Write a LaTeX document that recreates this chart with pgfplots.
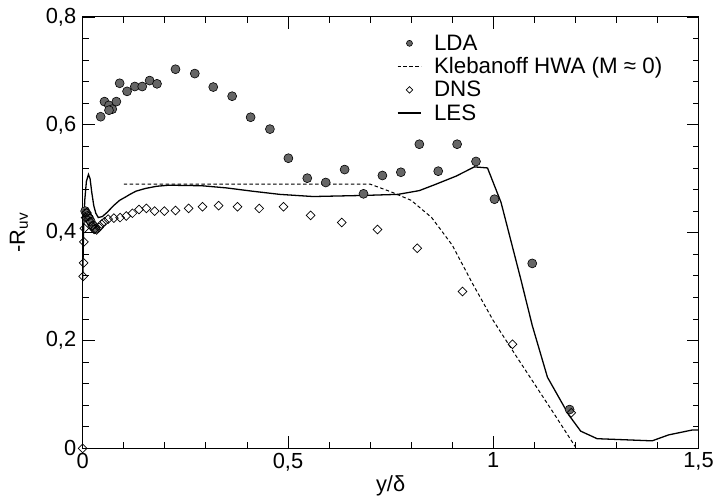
\documentclass[border=0pt]{standalone}
\usepackage{fontspec}
\setmainfont{Liberation Sans}
\usepackage{pgfplots}
\pgfplotsset{compat=1.18}
\pgfplotsset{
  ldaleg/.style={legend image code/.code={\draw[##1, mark size=3bp] plot coordinates {(12bp,0bp)};}},
  dnsleg/.style={legend image code/.code={\draw[##1, mark size=2.3bp] plot coordinates {(12bp,0bp)};}},
  lineleg/.style={legend image code/.code={\draw[##1] (0bp,0bp) -- (24bp,0bp);}},
}
\begin{document}
\begin{tikzpicture}
\begin{axis}[
  scale only axis, width=618bp, height=433bp,
  xmin=0, xmax=1.5, ymin=0, ymax=0.8,
  xtick={0,0.5,1,1.5}, ytick={0,0.2,0.4,0.6,0.8},
  minor x tick num=4, minor y tick num=4,
  tick align=inside, major tick length=12bp, minor tick length=6bp,
  tick style={black, line width=0.8bp},
  axis line style={line width=1bp},
  /pgf/number format/.cd, use comma, fixed, assume math mode=true, /pgfplots/.cd,
  tick label style={font=\fontsize{22}{26}\selectfont},
  yticklabel style={xshift=-3bp},
  xticklabel style={yshift=-1bp},
  label style={font=\fontsize{22}{26}\selectfont},
  xlabel={y/δ}, ylabel={-R\textsubscript{uv}},
  xlabel style={yshift=2bp},
  ylabel style={yshift=11bp},
  legend style={draw=none, fill=none, at={(0.505,0.968)}, anchor=north west,
    font=\fontsize{22.5}{24}\selectfont, row sep=2bp, column sep=10bp},
  legend cell align=left,
  clip=false,
]
\addplot[only marks, mark=*, mark size=4.5bp, mark options={fill=black!60, draw=black, line width=0.6bp}, ldaleg] coordinates {
(0.006,0.440) (0.009,0.436) (0.012,0.431) (0.016,0.426) (0.020,0.420) (0.025,0.413) (0.031,0.407)
(0.0437,0.615) (0.053,0.643) (0.064,0.636) (0.072,0.629) (0.064,0.627) (0.082,0.643)
(0.090,0.677) (0.108,0.662) (0.127,0.671) (0.145,0.671) (0.163,0.682) (0.181,0.676)
(0.226,0.703) (0.273,0.695) (0.318,0.670) (0.364,0.653) (0.409,0.614) (0.456,0.592)
(0.501,0.538) (0.547,0.501) (0.592,0.493) (0.638,0.517) (0.684,0.472) (0.730,0.506)
(0.775,0.512) (0.820,0.564) (0.866,0.514) (0.912,0.564) (0.958,0.532) (1.003,0.462)
(1.095,0.343) (1.186,0.072)
};
\addlegendentry{LDA}
\addplot[black, line width=1bp, dash pattern=on 3.5bp off 2.5bp, lineleg] coordinates {
(0.1,0.490) (0.70,0.490) (0.75,0.476) (0.80,0.460) (0.85,0.428) (0.90,0.377)
(0.95,0.305) (1.00,0.237) (1.05,0.178) (1.10,0.120) (1.15,0.062) (1.20,0.003)
};
\addlegendentry{Klebanoff HWA (M ≈ 0)}
\addplot[only marks, mark=square, mark size=3.1bp, mark options={rotate=45, draw=black, fill=white, line width=0.7bp}, dnsleg] coordinates {
(0,0) (0.001,0.319) (0.002,0.344) (0.003,0.383) (0.004,0.408) (0.007,0.428) (0.010,0.437)
(0.014,0.430) (0.018,0.420) (0.023,0.412) (0.028,0.406) (0.034,0.405) (0.040,0.410)
(0.046,0.416) (0.053,0.420) (0.062,0.425) (0.076,0.427) (0.091,0.428) (0.106,0.431)
(0.121,0.436) (0.137,0.443) (0.155,0.445) (0.175,0.440) (0.199,0.440) (0.226,0.441)
(0.258,0.445) (0.292,0.448) (0.331,0.450) (0.377,0.448) (0.430,0.445) (0.489,0.448)
(0.555,0.432) (0.631,0.419) (0.718,0.406) (0.815,0.371) (0.925,0.291) (1.047,0.193)
(1.190,0.066)
};
\addlegendentry{DNS}
\addplot[black, line width=1.3bp, lineleg] coordinates {
(0,0.31) (0.002,0.40) (0.005,0.46) (0.009,0.495) (0.014,0.508) (0.018,0.50) (0.022,0.475)
(0.027,0.45) (0.032,0.436) (0.038,0.428) (0.048,0.430) (0.060,0.438) (0.075,0.450)
(0.090,0.460) (0.104,0.466) (0.115,0.471) (0.130,0.477) (0.153,0.482) (0.18,0.486)
(0.21,0.488) (0.29,0.487) (0.35,0.483) (0.412,0.477) (0.48,0.471) (0.561,0.467)
(0.683,0.469) (0.768,0.471) (0.82,0.478) (0.861,0.490) (0.91,0.505) (0.954,0.522)
(0.986,0.520) (1.019,0.456) (1.067,0.314) (1.095,0.228) (1.132,0.132) (1.184,0.062)
(1.213,0.032) (1.253,0.018) (1.387,0.014) (1.427,0.025) (1.484,0.034) (1.5,0.034)
};
\addlegendentry{LES}
\path (rel axis cs:0,1) -- ++(0,17bp);
\path (rel axis cs:0,0.5) -- ++(-83bp,0);
\end{axis}
\end{tikzpicture}
\end{document}
